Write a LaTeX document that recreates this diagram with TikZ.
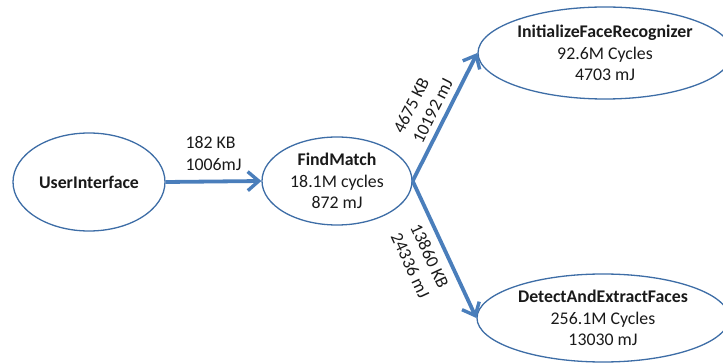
\documentclass[tikz,border=0pt]{standalone}
\usepackage{fontspec}
\setmainfont{Carlito}
\usetikzlibrary{arrows.meta,shapes.geometric}
\definecolor{edgeblue}{HTML}{4A7EBB}
\definecolor{rimblue}{HTML}{3D6DA6}
\definecolor{ink}{HTML}{1A1A1A}
\begin{document}
\begin{tikzpicture}[x=1pt,y=-1pt,
  font=\fontsize{17.8}{21.5}\selectfont, text=ink,
  task/.style={draw=rimblue, line width=1.3pt, ellipse, inner sep=0pt,
    align=center, fill=white},
  flow/.style={draw=edgeblue, line width=3.8pt,
    -{Straight Barb[length=11pt, width=19pt, line width=3.4pt]}},
  cost/.style={align=left, inner sep=2pt}
]
\useasboundingbox (0,0) rectangle (723,363);
\clip (0,0) rectangle (723,363);

\node[task, minimum width=152pt, minimum height=98pt] (ui) at (89,182)
  {\textbf{UserInterface}};
\node[task, minimum width=150pt, minimum height=88pt] (fm) at (337,181)
  {\textbf{FindMatch}\\18.1M cycles\\872 mJ};
\node[task, minimum width=254pt, minimum height=92pt] (ifr) at (605,53)
  {\textbf{InitializeFaceRecognizer}\\92.6M Cycles\\4703 mJ};
\node[task, minimum width=252pt, minimum height=88pt] (def) at (603,318)
  {\textbf{DetectAndExtractFaces}\\256.1M Cycles\\13030 mJ};

\draw[flow] (ui.east) -- node[cost, above=7pt] {182 KB\\1006mJ} (fm.west);
\draw[flow] (fm.east) -- node[cost, sloped, above=4pt] {4675 KB\\10192 mJ} (ifr.west);
\draw[flow] (fm.east) -- node[cost, sloped, below=6pt] {13860 KB\\24336 mJ} (def.west);
\end{tikzpicture}
\end{document}
